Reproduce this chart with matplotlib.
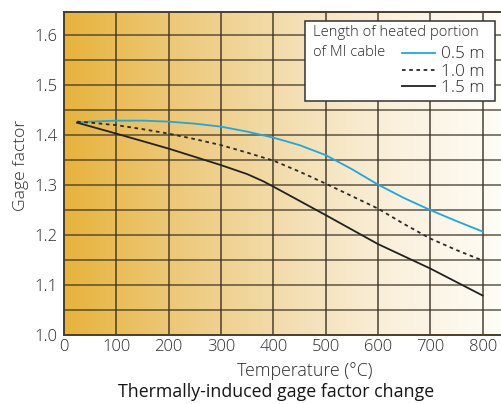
import numpy as np
import matplotlib
matplotlib.use("Agg")
import matplotlib.pyplot as plt
from matplotlib.colors import LinearSegmentedColormap
from matplotlib.patches import Rectangle
from matplotlib.lines import Line2D

# ---- data ----
temp_05 = [25, 50, 100, 150, 200, 250, 300, 350, 400, 450, 500, 550, 600, 650, 700, 750, 800]
gf_05 = [1.425, 1.427, 1.429, 1.429, 1.427, 1.423, 1.417, 1.407, 1.395, 1.380, 1.360,
         1.332, 1.301, 1.274, 1.250, 1.228, 1.207]
temp_10 = [25, 50, 100, 150, 200, 250, 300, 350, 400, 450, 500, 550, 600, 650, 700, 750, 800]
gf_10 = [1.427, 1.425, 1.420, 1.412, 1.403, 1.392, 1.380, 1.365, 1.349, 1.327, 1.303,
         1.278, 1.253, 1.222, 1.193, 1.170, 1.149]
temp_15 = [25, 100, 200, 300, 350, 380, 400, 500, 600, 700, 800]
gf_15 = [1.425, 1.403, 1.373, 1.340, 1.322, 1.308, 1.297, 1.240, 1.182, 1.133, 1.079]

x_ticks = [0, 100, 200, 300, 400, 500, 600, 700, 800]
y_ticks = [1.0, 1.1, 1.2, 1.3, 1.4, 1.5, 1.6]
series_labels = ["0.5 m", "1.0 m", "1.5 m"]
legend_title = ["Length of heated portion", "of MI cable"]
x_label = "Temperature (°C)"
y_label = "Gage factor"
title = "Thermally-induced gage factor change"

FONT = ["Open Sans", "DejaVu Sans"]
plt.rcParams['font.family'] = FONT
TXT = "#2a2a2a"
LW = "light"

W, H = 502, 404
fig = plt.figure(figsize=(W / 100, H / 100), dpi=100)
fig.patch.set_facecolor("white")

ax_l, ax_r, ax_t, ax_b = 64, 502, 11.7, 335
ax = fig.add_axes([ax_l / W, (H - ax_b) / H, (ax_r - ax_l) / W, (ax_b - ax_t) / H])

xmax = 837
ymin, ymax = 1.0, 1.647
ax.set_xlim(0, xmax)
ax.set_ylim(ymin, ymax)

# gradient background
cmap = LinearSegmentedColormap.from_list(
    "bg", ["#E7B33C", "#EDC878", "#F3DDAE", "#FAF0DC", "#FFFDF7"])
grad = np.linspace(0, 1, 256).reshape(1, -1)
ax.imshow(grad, extent=[0, xmax, ymin, ymax], aspect="auto", cmap=cmap,
          zorder=0, interpolation="bilinear")

# grid
gcol = "#3b3326"
for xv in x_ticks[1:]:
    ax.axvline(xv, color=gcol, lw=1.2, alpha=0.85, zorder=1)
for yv in np.arange(1.05, 1.64, 0.05):
    ax.axhline(yv, color=gcol, lw=1.2, alpha=0.75, zorder=1)

# curves
ax.plot(temp_05, gf_05, color="#1BA8E2", lw=1.3, zorder=3)
ax.plot(temp_10, gf_10, color="#2a2a2a", lw=1.3, ls=(0, (2, 2)), zorder=3)
ax.plot(temp_15, gf_15, color="#222222", lw=1.3, zorder=3)

# spines
ax.spines["right"].set_visible(False)
for s in ["left", "top", "bottom"]:
    ax.spines[s].set_color("#4a3e2a")
    ax.spines[s].set_linewidth(1.4)

ax.set_xticks(x_ticks)
ax.set_yticks(y_ticks)
ax.set_xticklabels([str(v) for v in x_ticks])
ax.set_yticklabels([f"{v:.1f}" for v in y_ticks])
ax.tick_params(length=0, labelsize=12, colors=TXT, pad=5)
ax.tick_params(axis="x", pad=3)
for lab in ax.get_xticklabels() + ax.get_yticklabels():
    lab.set_fontweight(LW)

# axis labels & title in figure pixels
def ftext(x, y, s, **kw):
    fig.text(x / W, 1 - y / H, s, **kw)

ftext(305, 371, x_label, ha="center", va="center", fontsize=12.8, color=TXT, fontweight=LW)
ftext(21, 165, y_label, ha="center", va="center", fontsize=12.6, color=TXT, rotation=90,
      fontweight=LW)
ftext(276, 392, title, ha="center", va="center", fontsize=12.8, color="#151515",
      fontweight="medium")

# legend (manual)
fig.patches.append(Rectangle(((305) / W, 1 - 101 / H), (495 - 305) / W, (101 - 20.7) / H,
                             transform=fig.transFigure, facecolor="white",
                             edgecolor="#333333", lw=1.1, zorder=5))
ftext(313, 33, legend_title[0], ha="left", va="center", fontsize=10.6, color=TXT, zorder=6,
      fontweight=LW)
ftext(313, 52, legend_title[1], ha="left", va="center", fontsize=10.6, color=TXT, zorder=6,
      fontweight=LW)
styles = [dict(color="#1BA8E2", ls="-"), dict(color="#2a2a2a", ls=(0, (2, 2))),
          dict(color="#222222", ls="-")]
ys = [52.5, 70, 86]
for lab, st, yy in zip(series_labels, styles, ys):
    fig.lines.append(Line2D([402 / W, 435 / W], [1 - yy / H, 1 - yy / H],
                            transform=fig.transFigure, lw=1.3, zorder=6, **st))
    ftext(441, yy + 2, lab, ha="left", va="center", fontsize=12.3, color=TXT, zorder=6,
          fontweight=LW)

fig.savefig("out.png", dpi=100)
